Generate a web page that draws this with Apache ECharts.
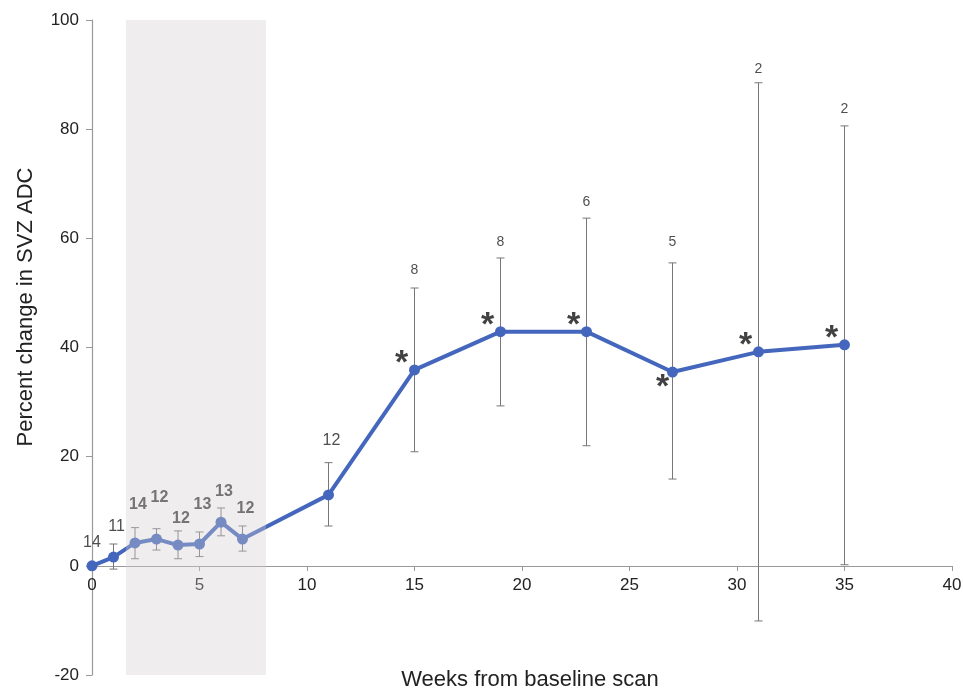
<!DOCTYPE html>
<html>
<head>
<meta charset="utf-8">
<script src="https://cdn.jsdelivr.net/npm/echarts@6/dist/echarts.min.js"></script>
<style>
  html, body { margin: 0; padding: 0; background: #fff; }
  #chart { width: 963px; height: 693px; }
</style>
</head>
<body>
<div id="chart"></div>
<script>
// weeks from baseline scan and mean % change in SVZ ADC
const weeks = [0, 1, 2, 3, 4, 5, 6, 7, 11, 15, 19, 23, 27, 31, 35];
const meanChange = [0, 1.6, 4.2, 4.9, 3.8, 4.0, 8.0, 4.9, 13.0, 35.9, 42.9, 42.9, 35.5, 39.2, 40.5];
const errLow = [0, -0.6, 1.3, 2.9, 1.3, 1.7, 5.5, 2.7, 7.3, 20.9, 29.3, 22.0, 15.9, -10.1, 0.2];
const errHigh = [0, 4.0, 7.0, 6.8, 6.4, 6.2, 10.6, 7.3, 18.9, 50.9, 56.4, 63.7, 55.5, 88.5, 80.6];
// number of patients at each time point, and where its label sits (data units)
const sampleSize = [14, 11, 14, 12, 12, 13, 13, 12, 12, 8, 8, 6, 5, 2, 2];
const countLabelY = [4.2, 7.1, 11.2, 12.5, 8.6, 11.2, 13.6, 10.4, 22.9, 54.2, 59.3, 66.7, 59.3, 91.0, 83.7];
// significant time points (*) and whether the star is above or below the point
const starWeeks = [15, 19, 23, 27, 31, 35];
const starBelow = [false, false, false, true, false, false];
// shaded window (weeks)
const shadedRange = [1.58, 8.09];

const FONT = "'Liberation Sans', Arial, sans-serif";
const chart = echarts.init(document.getElementById("chart"));

const errData = weeks
  .map((w, i) => [w, errLow[i], errHigh[i]])
  .filter((d) => d[1] !== d[2]);

const countData = weeks.map((w, i) => {
  const shaded = w > shadedRange[0] && w < shadedRange[1];
  const late = w >= 15;
  return {
    value: [w, countLabelY[i]],
    label: {
      formatter: String(sampleSize[i]),
      color: shaded ? "#555" : "#222",
      fontWeight: shaded ? "bold" : "normal",
      fontSize: late ? 14 : 16,
      offset: w > 0 && w < 15 ? [3, 0] : [0, 0],
    },
  };
});

const starData = starWeeks.map((w, i) => {
  const idx = weeks.indexOf(w);
  return {
    value: [w, meanChange[idx]],
    label: { offset: starBelow[i] ? [-10, 16] : [-13, -6] },
  };
});

// grid spans y -20..100 over 655px, so y = 0 sits 109px above the bottom
const gridHeight = 655;
const zeroOffset = -Math.round(gridHeight * 20 / 120);

const option = {
  animation: false,
  grid: { left: 92, right: 11, top: 20, bottom: 18, outerBoundsMode: "none" },
  xAxis: {
    type: "value",
    min: 0,
    max: 40,
    interval: 5,
    offset: zeroOffset,
    axisLine: { onZero: false, lineStyle: { color: "#999", width: 1.2 } },
    axisTick: { show: true, length: 5, lineStyle: { color: "#999" } },
    axisLabel: { color: "#222", fontSize: 17, fontFamily: FONT, margin: 11 },
    splitLine: { show: false },
  },
  yAxis: {
    type: "value",
    min: -20,
    max: 100,
    interval: 20,
    axisLine: { show: true, lineStyle: { color: "#999", width: 1.2 } },
    axisTick: { show: true, length: 6, lineStyle: { color: "#999" } },
    axisLabel: { color: "#222", fontSize: 17, fontFamily: FONT, margin: 13 },
    splitLine: { show: false },
  },
  graphic: [
    {
      type: "text",
      x: 26,
      y: 307,
      rotation: Math.PI / 2,
      style: {
        text: "Percent change in SVZ ADC",
        fontSize: 22,
        fontFamily: FONT,
        fill: "#222",
        align: "center",
        verticalAlign: "middle",
      },
    },
    {
      type: "text",
      x: 530,
      y: 680,
      style: {
        text: "Weeks from baseline scan",
        fontSize: 22,
        fontFamily: FONT,
        fill: "#222",
        align: "center",
        verticalAlign: "middle",
      },
    },
  ],
  series: [
    {
      // error bars
      type: "custom",
      z: 1,
      data: errData,
      renderItem: (params, api) => {
        const lo = api.coord([api.value(0), api.value(1)]);
        const hi = api.coord([api.value(0), api.value(2)]);
        const cap = 4;
        const style = { stroke: "#777", lineWidth: 1 };
        return {
          type: "group",
          children: [
            { type: "line", shape: { x1: lo[0], y1: lo[1], x2: hi[0], y2: hi[1] }, style },
            { type: "line", shape: { x1: hi[0] - cap, y1: hi[1], x2: hi[0] + cap, y2: hi[1] }, style },
            { type: "line", shape: { x1: lo[0] - cap, y1: lo[1], x2: lo[0] + cap, y2: lo[1] }, style },
          ],
        };
      },
    },
    {
      type: "line",
      z: 2,
      data: weeks.map((w, i) => [w, meanChange[i]]),
      symbol: "circle",
      symbolSize: 11,
      lineStyle: { color: "#4467bd", width: 4 },
      itemStyle: { color: "#4467bd" },
    },
    {
      // translucent shaded window drawn over the line
      type: "custom",
      z: 5,
      data: [[shadedRange[0], shadedRange[1]]],
      renderItem: (params, api) => {
        const a = api.coord([api.value(0), 100]);
        const b = api.coord([api.value(1), -20]);
        return {
          type: "rect",
          shape: { x: a[0], y: a[1], width: b[0] - a[0], height: b[1] - a[1] },
          style: { fill: "rgba(210,204,204,0.36)" },
        };
      },
    },
    {
      // sample-size labels
      type: "scatter",
      z: 6,
      symbolSize: 0,
      data: countData,
      label: { show: true, position: "inside", fontFamily: FONT },
    },
    {
      // significance stars
      type: "scatter",
      z: 6,
      symbolSize: 0,
      data: starData,
      label: {
        show: true,
        position: "inside",
        formatter: "*",
        fontSize: 34,
        fontWeight: "bold",
        color: "#111",
        fontFamily: FONT,
      },
    },
  ],
};

chart.setOption(option);
</script>
</body>
</html>
